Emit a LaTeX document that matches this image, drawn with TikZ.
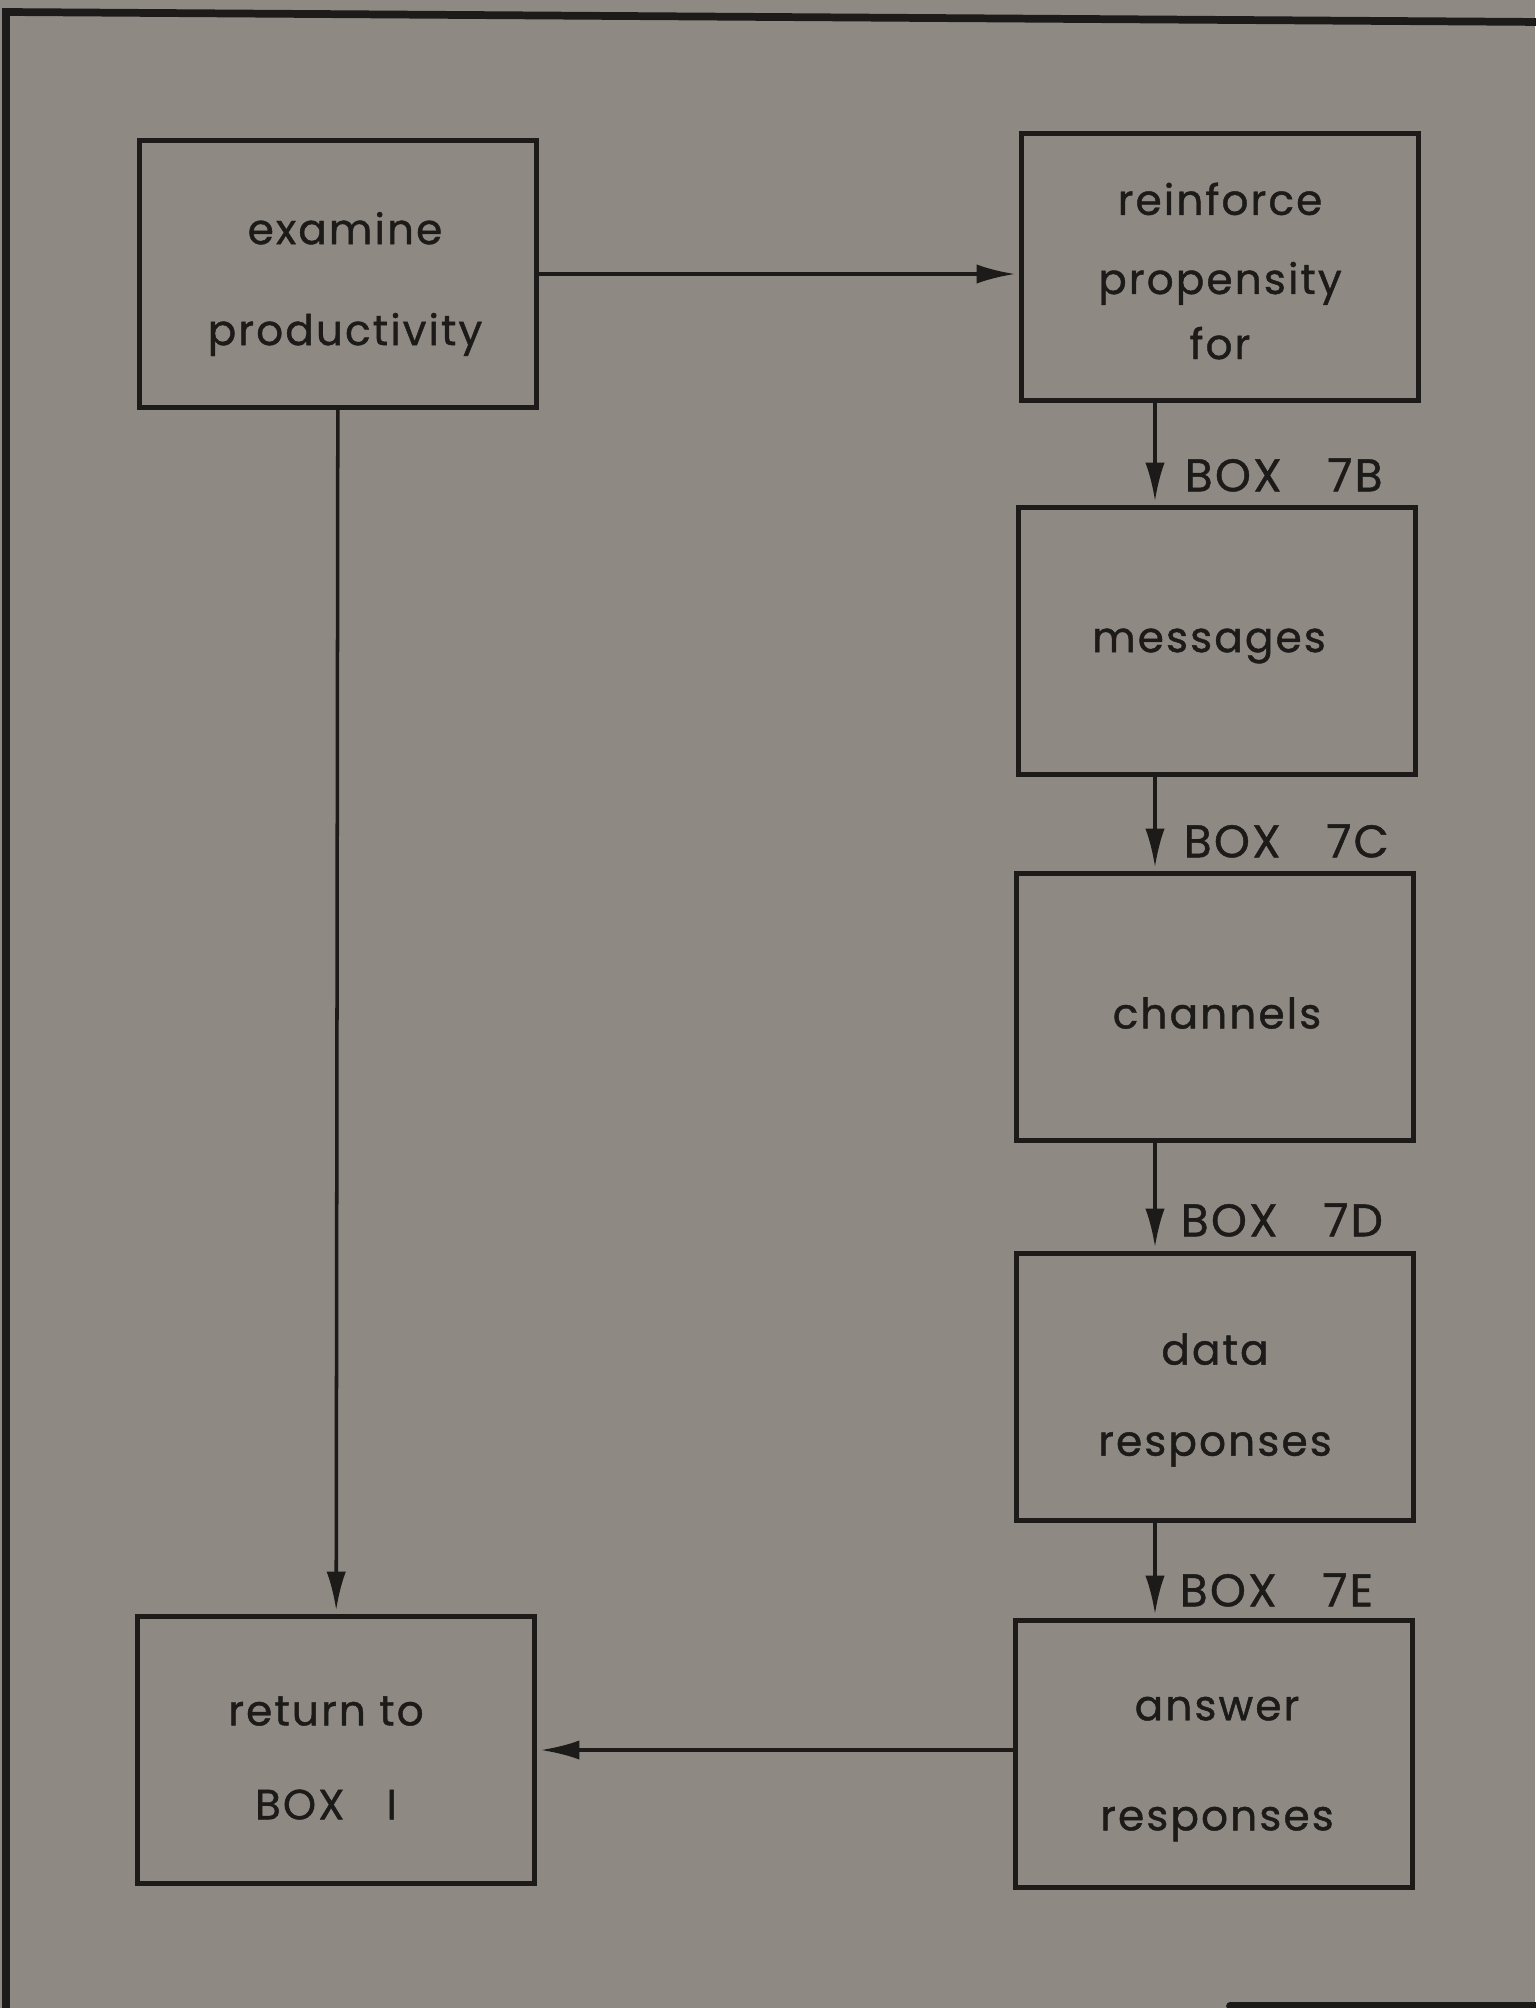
\documentclass[tikz,border=0pt]{standalone}
\usepackage{fontspec}
\usepackage{xcolor}
\usepackage{tikz}
\usetikzlibrary{arrows.meta,positioning}
\newfontfamily\boxfont[LetterSpace=5,FakeBold=1]{Poppins}
\definecolor{paper}{HTML}{8E8A83}
\definecolor{ink}{HTML}{1C1B19}

\begin{document}
\begin{tikzpicture}[x=0.01cm,y=-0.01cm,line cap=round,
  stepbox/.style={draw=ink,line width=1.4pt,minimum width=3.96cm,minimum height=2.66cm,inner sep=0pt},
  boxtext/.style={inner sep=0pt,align=center,text=ink,font=\boxfont\fontsize{12}{15}\selectfont},
  flow/.style={draw=ink,line width=1pt,-{Latex[length=11pt,width=5.5pt]},shorten >=1.2pt},
  tag/.style={anchor=west,inner sep=0pt,text=ink,font=\boxfont\fontsize{13}{16}\selectfont}]
  \fill[paper] (0,0) rectangle (1535,2008);
  \useasboundingbox (0,0) rectangle (1535,2008);
  % frame
  \draw[ink,line width=2.2pt] (1545,22) -- (6,12) -- (6,2015);
  \draw[ink,line width=2.2pt] (1230,2006) -- (1545,2006);
  % boxes
  \node[stepbox] (exam) at (338,274) {};
  \node[stepbox] (reinf) at (1220,267) {};
  \node[stepbox] (msg) at (1217,641) {};
  \node[stepbox] (chan) at (1215,1007) {};
  \node[stepbox] (data) at (1215,1387) {};
  \node[stepbox] (answ) at (1214,1754) {};
  \node[stepbox] (ret) at (336,1750) {};
  % texts in the boxes
  \node[boxtext] (examtxt) at (345,284) {examine\\[13.7pt]productivity};
  \node[boxtext] (reinftxt) at (1220,271) {reinforce\\[7.5pt]propensity\\[3.5pt]for};
  \node[boxtext] (msgtxt) at (1209,646) {messages};
  \node[boxtext] (chantxt) at (1217,1013) {channels};
  \node[boxtext] (datatxt) at (1215,1400) {data\\[10.9pt]responses};
  \node[boxtext] (answtxt) at (1217,1769) {answer\\[16.3pt]responses};
  \node[boxtext] (rettxt) at (326,1758) {return to\\[11.7pt]BOX\quad I};
  % connectors
  \coordinate (col) at (1155,0);
  \draw[flow] (exam) -- (exam -| reinf.west);
  \draw[flow] (exam) -- (ret);
  \draw[flow] (reinf.south -| col) -- (msg.north -| col);
  \draw[flow] (msg.south -| col) -- (chan.north -| col);
  \draw[flow] (chan.south -| col) -- (data.north -| col);
  \draw[flow] (data.south -| col) -- (answ.north -| col);
  \draw[flow] (answ.west |- ret) -- (ret);
  % labels
  \node[tag] (t7b) at (1184,475) {BOX\quad 7B};
  \node[tag] (t7c) at (1183,841) {BOX\quad 7C};
  \node[tag] (t7d) at (1180,1220) {BOX\quad 7D};
  \node[tag] (t7e) at (1179,1590) {BOX\quad 7E};
\end{tikzpicture}
\end{document}
